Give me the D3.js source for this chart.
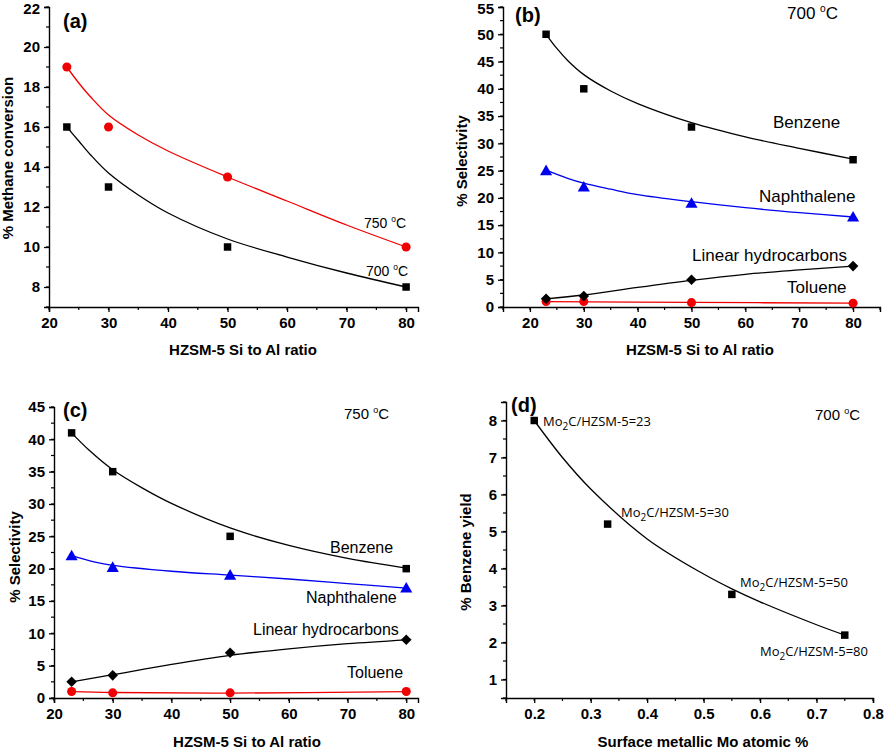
<!DOCTYPE html>
<html><head><meta charset="utf-8">
<script src="https://cdn.jsdelivr.net/npm/d3@7"></script>
<style>body{margin:0;background:#fff}svg{display:block}</style>
</head><body>
<svg id="c" width="885" height="751"></svg>
<script>
// ---------- DATA ----------
const siAl = [23, 30, 50, 80];
// (a) methane conversion
const conv700 = [16, 13, 10, 8];
const conv750 = [19, 16, 13.5, 10];
const fitAx = [23, 25, 27, 30, 35, 40, 50, 60, 70, 80];
const fitConv700 = [16, 15.3, 14.6, 13.7, 12.6, 11.7, 10.4, 9.5, 8.7, 8.0];
const fitConv750 = [19, 18.2, 17.5, 16.6, 15.6, 14.8, 13.5, 12.3, 11.1, 10.0];
// (b) selectivity 700 C
const benz700 = [50, 40, 33, 27];
const naph700 = [25, 22, 19, 16.5];
const lin700 = [1.5, 2, 5, 7.5];
const tol700 = [1, 1, 0.8, 0.7];
const fitBenz700x = [23, 25, 27, 30, 35, 40, 50, 60, 70, 80];
const fitBenz700 = [50, 47.4, 45.2, 42.6, 39.6, 37.3, 33.8, 31.2, 29.1, 27.1];
const fitNaph700x = [23, 27, 30, 35, 40, 50, 60, 70, 80];
const fitNaph700 = [25.1, 23.6, 22.7, 21.6, 20.6, 19.3, 18.2, 17.3, 16.5];
const fitLin700x = [23, 30, 40, 50, 60, 70, 80];
const fitLin700 = [1.5, 2.2, 3.6, 4.9, 6.0, 6.8, 7.5];
const fitTol700x = [23, 50, 80];
const fitTol700 = [1.0, 0.85, 0.7];
// (c) selectivity 750 C
const benz750 = [41, 35, 25, 20];
const naph750 = [22, 20.2, 19, 17];
const lin750 = [2.5, 3.5, 7, 9];
const tol750 = [1, 0.8, 0.8, 1];
const fitBenz750x = [23, 26, 30, 35, 40, 50, 60, 70, 80];
const fitBenz750 = [41, 38.3, 35.3, 32.5, 30.1, 26.3, 23.6, 21.6, 20.1];
const fitNaph750x = [23, 27, 30, 40, 50, 60, 70, 80];
const fitNaph750 = [22, 21, 20.5, 19.6, 19.0, 18.4, 17.7, 17];
const fitLin750x = [23, 30, 40, 50, 60, 70, 80];
const fitLin750 = [2.5, 3.6, 5.2, 6.6, 7.6, 8.4, 9];
const fitTol750x = [23, 30, 50, 80];
const fitTol750 = [1.0, 0.85, 0.75, 1.0];
// (d) benzene yield vs surface Mo
const moAtomic = [0.2, 0.33, 0.55, 0.75];
const benzYield = [8, 5.2, 3.3, 2.2];
const moLabels = ["23", "30", "50", "80"];
const fitMoX = [0.2, 0.25, 0.3, 0.4, 0.5, 0.55, 0.6, 0.7, 0.75];
const fitYield = [8.0, 7.0, 6.15, 4.8, 3.85, 3.45, 3.1, 2.48, 2.2];

// ---------- DRAW ----------
const svg = d3.select("#c");
const RED = "#f00000", BLUE = "#0000f0", BLACK = "#000";
const TICKFONT = "'Liberation Sans', Arial, sans-serif";

function panel(o) {
  const g = svg.append("g");
  const x = d3.scaleLinear().domain(o.xd).range(o.xr);
  const y = d3.scaleLinear().domain(o.yd).range(o.yr);
  const xAxisY = o.yr[0], yAxisX = o.xr[0];
  const xMin = d3.range(o.xd[0], o.xd[1] + 1e-9, o.xminor);
  g.append("g").selectAll("line").data(xMin).join("line")
    .attr("x1", d => x(d)).attr("x2", d => x(d))
    .attr("y1", xAxisY).attr("y2", xAxisY + 3)
    .attr("stroke", "#000").attr("stroke-width", 1.2);
  const yMin = d3.range(o.yd[0], o.yd[1] + 1e-9, o.yminor);
  g.append("g").selectAll("line").data(yMin).join("line")
    .attr("y1", d => y(d)).attr("y2", d => y(d))
    .attr("x1", yAxisX - 3).attr("x2", yAxisX)
    .attr("stroke", "#000").attr("stroke-width", 1.2);
  const xa = g.append("g").attr("transform", `translate(0,${xAxisY})`)
    .call(d3.axisBottom(x).tickValues(o.xticks).tickSizeOuter(0).tickSize(5).tickPadding(5).tickFormat(o.xfmt || d3.format("d")));
  const ya = g.append("g").attr("transform", `translate(${yAxisX},0)`)
    .call(d3.axisLeft(y).tickValues(o.yticks).tickSizeOuter(0).tickSize(5).tickPadding(4).tickFormat(d3.format("d")));
  [xa, ya].forEach(a => {
    a.select(".domain").attr("stroke-width", 1.4);
    a.selectAll(".tick line").attr("stroke-width", 1.3);
    a.selectAll("text").attr("font-family", TICKFONT).attr("font-weight", "bold")
      .attr("font-size", 15).attr("fill", "#000");
  });
  ya.selectAll(".tick text").filter(d => y(d) < 9).attr("dy", "0.45em");
  g.append("text").attr("x", o.xt[0]).attr("y", o.xt[1]).attr("text-anchor", "middle")
    .attr("font-family", TICKFONT).attr("font-weight", "bold").attr("font-size", 15)
    .text(o.xtitle);
  g.append("text").attr("transform", `translate(${o.yt[0]},${o.yt[1]}) rotate(-90)`)
    .attr("text-anchor", "middle")
    .attr("font-family", TICKFONT).attr("font-weight", "bold").attr("font-size", 15)
    .text(o.ytitle);
  g.append("text").attr("x", o.lab[0]).attr("y", o.lab[1])
    .attr("font-family", TICKFONT).attr("font-weight", "bold").attr("font-size", 20)
    .text(o.label);
  return {g, x, y};
}

function fit(p, xs, ys, color) {
  const line = d3.line().x(d => p.x(d[0])).y(d => p.y(d[1])).curve(d3.curveCatmullRom.alpha(0.5));
  p.g.append("path").datum(d3.zip(xs, ys)).attr("d", line)
    .attr("fill", "none").attr("stroke", color).attr("stroke-width", 1.3);
}
function markers(p, xs, ys, type, color) {
  const sym = {
    square: d3.symbolSquare, circle: d3.symbolCircle,
    triangle: d3.symbolTriangle, diamond: d3.symbolSquare
  }[type];
  const size = {square: 56, circle: 64, triangle: 64, diamond: 56}[type];
  p.g.append("g").selectAll("path").data(d3.zip(xs, ys)).join("path")
    .attr("transform", d => `translate(${p.x(d[0])},${p.y(d[1]) + (type === "triangle" ? 1 : 0)})` + (type === "diamond" ? " rotate(45)" : ""))
    .attr("d", d3.symbol().type(sym).size(size))
    .attr("fill", color);
}
function note(p, x, y, size, txt, deg) {
  const t = p.g.append("text").attr("x", x).attr("y", y)
    .attr("font-family", "'Liberation Sans', Arial, sans-serif").attr("font-size", size);
  if (deg) {
    t.append("tspan").text(txt + " ");
    t.append("tspan").attr("dy", -size * 0.4).attr("font-size", size * 0.6).text("o");
    t.append("tspan").attr("dy", size * 0.4).text("C");
  } else t.text(txt);
}
function moNote(p, x, y, val) {
  const t = p.g.append("text").attr("x", x).attr("y", y)
    .attr("font-family", "'Open Sans', sans-serif").attr("font-size", 13);
  t.append("tspan").text("Mo");
  t.append("tspan").attr("dy", 4).attr("font-size", 10).text("2");
  t.append("tspan").attr("dy", -4).text("C/HZSM-5=" + val);
}

// (a)
const pa = panel({xd: [20, 82], xr: [49, 418], yd: [7, 22], yr: [307, 7],
  xticks: [20, 30, 40, 50, 60, 70, 80], yticks: [8, 10, 12, 14, 16, 18, 20, 22],
  xminor: 5, yminor: 1, xtitle: "HZSM-5 Si to Al ratio", ytitle: "% Methane conversion",
  xt: [243, 355], yt: [13, 158], label: "(a)", lab: [63, 28]});
fit(pa, fitAx, fitConv750, RED);
fit(pa, fitAx, fitConv700, BLACK);
markers(pa, siAl, conv750, "circle", RED);
markers(pa, siAl, conv700, "square", BLACK);
note(pa, 364, 228, 14, "750", true);
note(pa, 366, 276, 14, "700", true);

// (b)
const pb = panel({xd: [15, 85], xr: [503, 880], yd: [0, 55], yr: [307, 7],
  xticks: [20, 30, 40, 50, 60, 70, 80], yticks: d3.range(0, 56, 5),
  xminor: 5, yminor: 2.5, xtitle: "HZSM-5 Si to Al ratio", ytitle: "% Selectivity",
  xt: [700, 355], yt: [467, 161], label: "(b)", lab: [515, 22]});
fit(pb, fitBenz700x, fitBenz700, BLACK);
fit(pb, fitNaph700x, fitNaph700, BLUE);
fit(pb, fitLin700x, fitLin700, BLACK);
fit(pb, fitTol700x, fitTol700, RED);
markers(pb, siAl, benz700, "square", BLACK);
markers(pb, siAl, naph700, "triangle", BLUE);
markers(pb, siAl, tol700, "circle", RED);
markers(pb, siAl, lin700, "diamond", BLACK);
note(pb, 787, 19, 17, "700", true);
note(pb, 773, 128, 17, "Benzene");
note(pb, 759, 202, 17, "Naphthalene");
note(pb, 692, 261, 17, "Linear hydrocarbons");
note(pb, 787, 293, 17, "Toluene");

// (c)
const pc = panel({xd: [20, 82], xr: [54, 418], yd: [0, 45], yr: [698, 407],
  xticks: [20, 30, 40, 50, 60, 70, 80], yticks: d3.range(0, 46, 5),
  xminor: 5, yminor: 2.5, xtitle: "HZSM-5 Si to Al ratio", ytitle: "% Selectivity",
  xt: [247, 747], yt: [20, 557], label: "(c)", lab: [63, 417]});
fit(pc, fitBenz750x, fitBenz750, BLACK);
fit(pc, fitNaph750x, fitNaph750, BLUE);
fit(pc, fitLin750x, fitLin750, BLACK);
fit(pc, fitTol750x, fitTol750, RED);
markers(pc, siAl, benz750, "square", BLACK);
markers(pc, siAl, naph750, "triangle", BLUE);
markers(pc, siAl, tol750, "circle", RED);
markers(pc, siAl, lin750, "diamond", BLACK);
note(pc, 344, 419, 15, "750", true);
note(pc, 330, 553, 16, "Benzene");
note(pc, 306, 603, 16, "Naphthalene");
note(pc, 253, 635, 16, "Linear hydrocarbons");
note(pc, 347, 678, 16, "Toluene");

// (d)
const pd = panel({xd: [0.15, 0.8], xr: [506, 873], yd: [0.5, 8.5], yr: [698, 402],
  xticks: [0.2, 0.3, 0.4, 0.5, 0.6, 0.7, 0.8], yticks: [1, 2, 3, 4, 5, 6, 7, 8],
  xminor: 0.05, yminor: 0.5, xfmt: d3.format(".1f"),
  xtitle: "Surface metallic Mo atomic %", ytitle: "% Benzene yield",
  xt: [703, 747], yt: [471, 552], label: "(d)", lab: [511, 412]});
fit(pd, fitMoX, fitYield, BLACK);
markers(pd, moAtomic, benzYield, "square", BLACK);
note(pd, 815, 420, 15, "700", true);
const moPos = [[543, 426], [621, 517], [740, 587], [760, 656]];
moLabels.forEach((v, i) => moNote(pd, moPos[i][0], moPos[i][1], v));
</script>
</body></html>
